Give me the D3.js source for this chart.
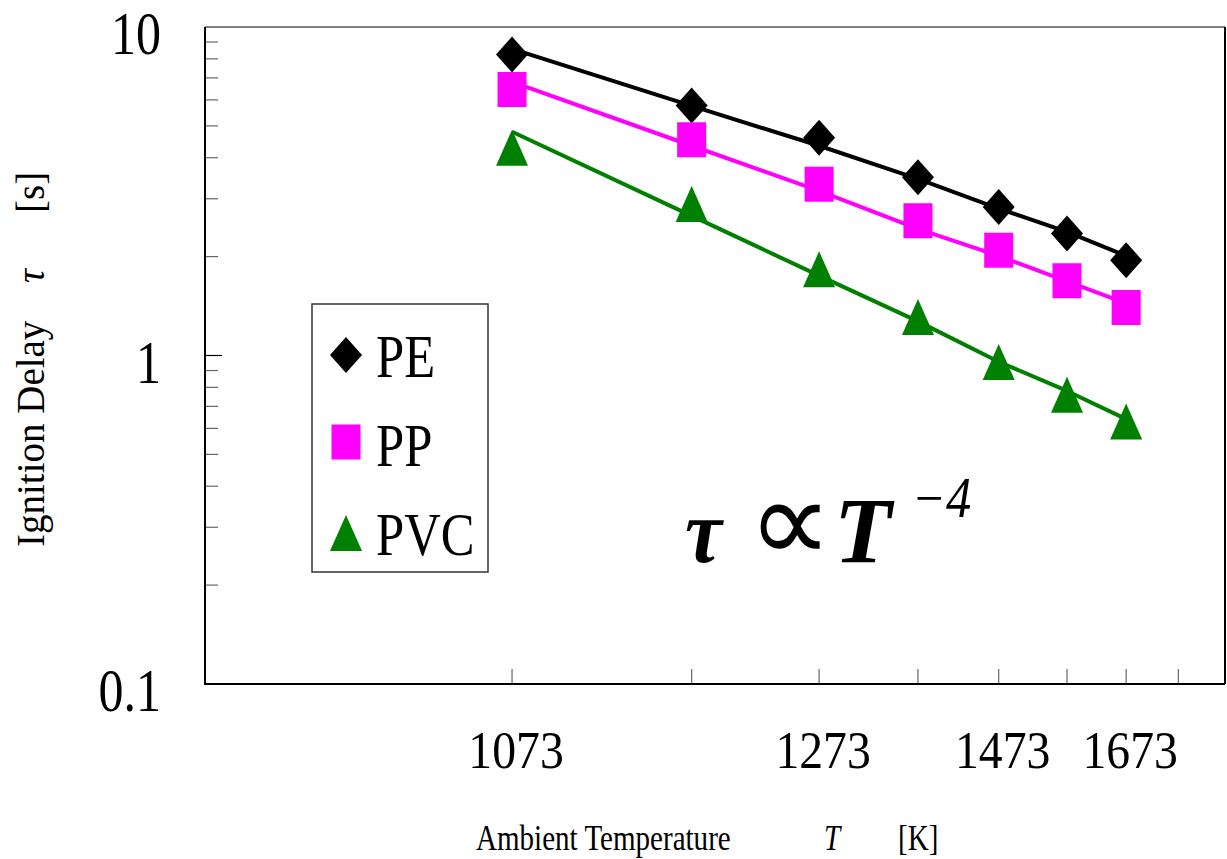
<!DOCTYPE html>
<html lang="en">
<head>
<meta charset="utf-8" />
<title>Ignition delay vs ambient temperature</title>
<script src="https://d3js.org/d3.v7.min.js"></script>
<style>
  body { margin: 0; background: #fff; }
  svg text { font-family: "Liberation Serif", "Times New Roman", serif; fill: #000; }
</style>
</head>
<body>
<div id="chart"></div>
<script>
var temps = [1073, 1173, 1273, 1373, 1473, 1573, 1673];
var pe  = [8.25, 5.77, 4.60, 3.49, 2.83, 2.35, 1.95];
var pp  = [6.45, 4.54, 3.32, 2.57, 2.09, 1.69, 1.40];
var pvc = [4.29, 2.89, 1.83, 1.31, 0.955, 0.759, 0.630];

// fitted curves drawn through the points
var peFit  = [8.58, 5.75, 4.35, 3.45, 2.80, 2.38, 2.01];
var ppFit  = [6.81, 4.35, 3.17, 2.43, 2.01, 1.68, 1.44];
var pvcFit = [4.80, 2.66, 1.75, 1.27, 0.957, 0.78, 0.64];

var seriesNames = ['PE', 'PP', 'PVC'];
var xTickTemps = [1073, 1173, 1273, 1373, 1473, 1573, 1673, 1773];
var xTickLabels = [1073, 1273, 1473, 1673];
var yTickLabels = [0.1, 1, 10];

(function() {
  'use strict';

  var width = 1227, height = 859;
  // axis is logarithmic in (T - 873)
  var tOffset = 873;

  var svg = d3.select('#chart').append('svg')
    .attr('width', width)
    .attr('height', height);

  var xLog = d3.scaleLog().domain([100, 1000]).range([205, 1225]);
  var x = function(t) { return xLog(t - tOffset); };
  var y = d3.scaleLog().domain([0.1, 10]).range([684, 27]);

  var colors = { PE: '#000000', PP: '#ff00ff', PVC: '#008000' };
  var values = { PE: pe, PP: pp, PVC: pvc };
  var fits = { PE: peFit, PP: ppFit, PVC: pvcFit };

  // text helper with horizontal squeeze like the original
  function label(g, str, tx, ty, size, sx, anchor, rot) {
    var t = g.append('text')
      .attr('transform', 'translate(' + tx + ',' + ty + ')' + (rot ? ' rotate(' + rot + ')' : '') + ' scale(' + sx + ',1)')
      .attr('font-size', size)
      .attr('text-anchor', anchor || 'start');
    if (str !== null) t.text(str);
    return t;
  }

  // y minor/major ticks
  var yTicks = [];
  [0.1, 1].forEach(function(d) {
    for (var k = 2; k <= 9; k++) yTicks.push(d * k);
  });
  svg.selectAll('.ytick').data(yTicks).enter().append('line')
    .attr('x1', 206).attr('x2', 218)
    .attr('y1', function(d) { return y(d); })
    .attr('y2', function(d) { return y(d); })
    .attr('stroke', '#666').attr('stroke-width', 1.2);
  svg.append('line')
    .attr('x1', 206).attr('x2', 222)
    .attr('y1', y(1)).attr('y2', y(1))
    .attr('stroke', '#000').attr('stroke-width', 1.2);

  // x ticks
  svg.selectAll('.xtick').data(xTickTemps).enter().append('line')
    .attr('x1', function(d) { return x(d); })
    .attr('x2', function(d) { return x(d); })
    .attr('y1', y(0.1)).attr('y2', y(0.1) - 15)
    .attr('stroke', '#666').attr('stroke-width', 1.2);

  // frame
  svg.append('line').attr('x1', 205).attr('x2', 1225).attr('y1', y(10)).attr('y2', y(10))
    .attr('stroke', '#808080').attr('stroke-width', 2);
  svg.append('line').attr('x1', 1225).attr('x2', 1225).attr('y1', y(10)).attr('y2', y(0.1))
    .attr('stroke', '#000').attr('stroke-width', 2);
  svg.append('line').attr('x1', 205).attr('x2', 205).attr('y1', y(10)).attr('y2', y(0.1) + 1)
    .attr('stroke', '#000').attr('stroke-width', 2);
  svg.append('line').attr('x1', 204).attr('x2', 1225).attr('y1', y(0.1)).attr('y2', y(0.1))
    .attr('stroke', '#000').attr('stroke-width', 2);

  // tick labels
  yTickLabels.forEach(function(v) {
    label(svg, String(v), 161, y(v) + 27, 61, 0.82, 'end');
  });
  xTickLabels.forEach(function(t) {
    label(svg, String(t), x(t) + 4, 768, 53, 0.9, 'middle');
  });

  // axis titles
  label(svg, 'Ambient Temperature', 476, 850, 35, 0.83, 'start');
  label(svg, 'T', 824, 850, 35, 0.83, 'start').attr('font-style', 'italic');
  label(svg, '[K]', 898, 850, 35, 0.83, 'start');

  label(svg, 'Ignition Delay', 44, 547, 39, 1, 'start', -90);
  label(svg, '\u03c4', 44, 283, 39, 1, 'start', -90).attr('font-style', 'italic');
  label(svg, '[s]', 44, 213, 39, 1, 'start', -90);

  // markers
  function markerPath(name, cx, cy) {
    var w = 16, h = 18;
    if (name === 'PE') {
      return 'M' + cx + ',' + (cy - h) + 'L' + (cx + w) + ',' + cy + 'L' + cx + ',' + (cy + h) + 'L' + (cx - w) + ',' + cy + 'Z';
    }
    if (name === 'PP') {
      w = 14.5; h = 17.5;
      return 'M' + (cx - w) + ',' + (cy - h) + 'H' + (cx + w) + 'V' + (cy + h) + 'H' + (cx - w) + 'Z';
    }
    return 'M' + cx + ',' + (cy - h) + 'L' + (cx + w) + ',' + (cy + h) + 'L' + (cx - w) + ',' + (cy + h) + 'Z';
  }

  var line = d3.line()
    .x(function(d) { return x(d.t); })
    .y(function(d) { return y(d.v); });

  seriesNames.forEach(function(name) {
    var fitData = temps.map(function(t, i) { return { t: t, v: fits[name][i] }; });
    svg.append('path')
      .datum(fitData)
      .attr('d', line)
      .attr('fill', 'none')
      .attr('stroke', colors[name])
      .attr('stroke-width', 4)
      .attr('stroke-linejoin', 'round');
  });

  seriesNames.forEach(function(name) {
    var pts = temps.map(function(t, i) { return { t: t, v: values[name][i] }; });
    svg.selectAll('.m-' + name).data(pts).enter().append('path')
      .attr('d', function(d) { return markerPath(name, x(d.t), y(d.v)); })
      .attr('fill', colors[name]);
  });

  // legend
  var legend = svg.append('g');
  legend.append('rect')
    .attr('x', 312).attr('y', 304)
    .attr('width', 176).attr('height', 268)
    .attr('fill', '#fff')
    .attr('stroke', '#333').attr('stroke-width', 1.5);
  var legendY = [355, 442, 533];
  var legendBase = [377, 466, 555];
  seriesNames.forEach(function(name, i) {
    legend.append('path')
      .attr('d', markerPath(name, 346, legendY[i]))
      .attr('fill', colors[name]);
    label(legend, name, 376, legendBase[i], 61, 0.83, 'start');
  });

  // power law annotation
  var ann = svg.append('g');
  label(ann, '\u03c4', 685, 562, 92, 0.9, 'start').attr('font-style', 'italic').attr('font-weight', 'bold');
  label(ann, '\u221d', 748, 562, 118, 1, 'start').attr('font-family', 'DejaVu Serif');
  label(ann, 'T', 834, 562, 94, 1, 'start').attr('font-style', 'italic').attr('font-weight', 'bold');
  label(ann, '\u22124', 912, 517, 56, 0.9, 'start').attr('font-style', 'italic');
})();
</script>
</body>
</html>
